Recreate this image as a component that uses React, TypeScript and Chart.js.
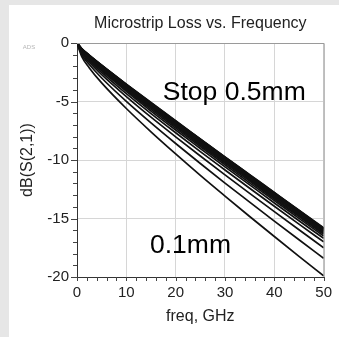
import React, { useEffect, useRef } from "react";
import { Chart, registerables } from "chart.js";

Chart.register(...registerables);

// Frequency points (GHz)
const freqGHz = [0, 1, 2.5, 5, 10, 15, 20, 25, 30, 35, 40, 45, 50];

// Strip widths (mm), 0.1 -> 0.5 mm
const widthsMm = [0.1, 0.125, 0.15, 0.175, 0.2, 0.225, 0.25, 0.275, 0.3, 0.325, 0.35, 0.375, 0.4, 0.425, 0.45, 0.475, 0.5];

// dB(S(2,1)) for each width
const s21_w0100 = [0, -1.19, -2.13, -3.41, -5.6, -7.59, -9.48, -11.31, -13.08, -14.83, -16.54, -18.23, -19.9];
const s21_w0125 = [0, -1.01, -1.84, -2.99, -4.99, -6.83, -8.59, -10.3, -11.97, -13.6, -15.22, -16.82, -18.4];
const s21_w0150 = [0, -0.88, -1.64, -2.7, -4.58, -6.34, -8.02, -9.66, -11.27, -12.85, -14.41, -15.96, -17.5];
const s21_w0175 = [0, -0.8, -1.5, -2.51, -4.33, -6.03, -7.67, -9.28, -10.85, -12.41, -13.95, -15.48, -17.0];
const s21_w0200 = [0, -0.73, -1.4, -2.37, -4.14, -5.82, -7.44, -9.02, -10.59, -12.13, -13.67, -15.19, -16.7];
const s21_w0225 = [0, -0.68, -1.33, -2.28, -4.02, -5.67, -7.27, -8.85, -10.41, -11.95, -13.47, -14.99, -16.5];
const s21_w0250 = [0, -0.64, -1.27, -2.2, -3.92, -5.55, -7.15, -8.72, -10.27, -11.8, -13.33, -14.84, -16.35];
const s21_w0275 = [0, -0.62, -1.23, -2.14, -3.84, -5.47, -7.06, -8.62, -10.17, -11.7, -13.23, -14.74, -16.25];
const s21_w0300 = [0, -0.59, -1.19, -2.09, -3.77, -5.39, -6.97, -8.53, -10.07, -11.61, -13.13, -14.64, -16.15];
const s21_w0325 = [0, -0.57, -1.16, -2.05, -3.72, -5.33, -6.91, -8.47, -10.01, -11.54, -13.06, -14.57, -16.08];
const s21_w0350 = [0, -0.55, -1.13, -2.02, -3.68, -5.28, -6.85, -8.41, -9.95, -11.47, -13.0, -14.51, -16.02];
const s21_w0375 = [0, -0.54, -1.11, -1.99, -3.64, -5.24, -6.81, -8.36, -9.9, -11.42, -12.95, -14.46, -15.97];
const s21_w0400 = [0, -0.52, -1.09, -1.96, -3.61, -5.2, -6.77, -8.32, -9.86, -11.38, -12.91, -14.42, -15.93];
const s21_w0425 = [0, -0.52, -1.08, -1.94, -3.58, -5.17, -6.74, -8.28, -9.82, -11.35, -12.87, -14.38, -15.89];
const s21_w0450 = [0, -0.51, -1.06, -1.92, -3.56, -5.14, -6.71, -8.25, -9.79, -11.32, -12.84, -14.35, -15.86];
const s21_w0475 = [0, -0.5, -1.05, -1.9, -3.53, -5.12, -6.68, -8.22, -9.76, -11.28, -12.8, -14.32, -15.83];
const s21_w0500 = [0, -0.49, -1.04, -1.89, -3.51, -5.09, -6.65, -8.19, -9.73, -11.25, -12.77, -14.29, -15.8];

const seriesByWidth = [
  s21_w0100, s21_w0125, s21_w0150, s21_w0175, s21_w0200, s21_w0225,
  s21_w0250, s21_w0275, s21_w0300, s21_w0325, s21_w0350, s21_w0375,
  s21_w0400, s21_w0425, s21_w0450, s21_w0475, s21_w0500,
];

// Axis ticks
const xMajorTicks = [0, 10, 20, 30, 40, 50];
const xMinorTicks = [2, 4, 6, 8, 12, 14, 16, 18, 22, 24, 26, 28, 32, 34, 36, 38, 42, 44, 46, 48];
const yMajorTicks = [0, -5, -10, -15, -20];
const yMinorTicks = [-1, -2, -3, -4, -6, -7, -8, -9, -11, -12, -13, -14, -16, -17, -18, -19];

// Texts
const chartTitle = "Microstrip Loss vs. Frequency";
const xAxisTitle = "freq, GHz";
const yAxisTitle = "dB(S(2,1))";
const annotationTexts = ["Stop 0.5mm", "0.1mm"];
const annotationFreq = [17.4, 14.8];
const annotationDb = [-4.9, -17.95];

const FONT = '"Liberation Sans", Arial, Helvetica, sans-serif';

const overlayPlugin = {
  id: "adsOverlay",
  afterDraw(chart: any) {
    const { ctx, chartArea } = chart;
    const xs = chart.scales.x;
    const ys = chart.scales.y;
    ctx.save();
    // top & right frame
    ctx.strokeStyle = "#9a9a9a";
    ctx.lineWidth = 1;
    ctx.beginPath();
    ctx.moveTo(chartArea.left, chartArea.top + 0.5);
    ctx.lineTo(chartArea.right + 0.5, chartArea.top + 0.5);
    ctx.lineTo(chartArea.right + 0.5, chartArea.bottom);
    ctx.stroke();
    // ticks
    ctx.strokeStyle = "#444";
    ctx.beginPath();
    xMajorTicks.concat(xMinorTicks).forEach((v) => {
      const px = Math.round(xs.getPixelForValue(v)) + 0.5;
      ctx.moveTo(px, chartArea.bottom);
      ctx.lineTo(px, chartArea.bottom + 4);
    });
    yMinorTicks.forEach((v) => {
      const py = Math.round(ys.getPixelForValue(v)) + 0.5;
      ctx.moveTo(chartArea.left - 4, py);
      ctx.lineTo(chartArea.left, py);
    });
    yMajorTicks.forEach((v) => {
      const py = Math.round(ys.getPixelForValue(v)) + 0.5;
      ctx.moveTo(chartArea.left - 6, py);
      ctx.lineTo(chartArea.left, py);
    });
    ctx.stroke();
    // title
    ctx.fillStyle = "#222";
    ctx.font = `16px ${FONT}`;
    ctx.textAlign = "center";
    ctx.textBaseline = "alphabetic";
    ctx.fillText(chartTitle, (chartArea.left + chartArea.right) / 2, 23);
    // x axis title
    ctx.fillText(xAxisTitle, (chartArea.left + chartArea.right) / 2, 316);
    // y axis title
    ctx.save();
    ctx.translate(23, (chartArea.top + chartArea.bottom) / 2);
    ctx.rotate(-Math.PI / 2);
    ctx.textBaseline = "alphabetic";
    ctx.fillText(yAxisTitle, 0, 0);
    ctx.restore();
    // ADS mark
    ctx.fillStyle = "#b5b5b5";
    ctx.font = `6px ${FONT}`;
    ctx.textAlign = "center";
    ctx.textBaseline = "middle";
    ctx.fillText("ADS", 20, 42);
    // annotations
    ctx.fillStyle = "#000";
    ctx.font = `26.5px ${FONT}`;
    ctx.textAlign = "left";
    ctx.textBaseline = "alphabetic";
    annotationTexts.forEach((t, i) => {
      ctx.fillText(t, xs.getPixelForValue(annotationFreq[i]), ys.getPixelForValue(annotationDb[i]));
    });
    ctx.restore();
  },
};

export default function App() {
  const canvasRef = useRef<HTMLCanvasElement | null>(null);

  useEffect(() => {
    document.body.style.margin = "0";
    const canvas = canvasRef.current;
    if (!canvas) return;
    const datasets = seriesByWidth.map((vals, i) => ({
      label: `W=${widthsMm[i]}mm`,
      data: vals.map((v, j) => ({ x: freqGHz[j], y: v })),
      borderColor: "#111",
      borderWidth: 1.7,
      pointRadius: 0,
      fill: false,
      cubicInterpolationMode: "monotone" as const,
    }));
    const chart = new Chart(canvas, {
      type: "line",
      data: { datasets },
      options: {
        animation: false,
        responsive: false,
        maintainAspectRatio: false,
        layout: { padding: { top: 38, right: 10, left: 0, bottom: 0 } },
        plugins: {
          legend: { display: false },
          title: { display: false },
          tooltip: { enabled: false },
        },
        scales: {
          x: {
            type: "linear",
            min: 0,
            max: 50,
            afterFit: (s: any) => { s.height = 60; },
            afterBuildTicks: (s: any) => { s.ticks = xMajorTicks.map((v) => ({ value: v })); },
            ticks: { font: { size: 15, family: FONT }, color: "#222", padding: 7, maxRotation: 0 },
            grid: { color: "#d6d6d6", drawTicks: false },
            border: { color: "#333", width: 1 },
          },
          y: {
            type: "linear",
            min: -20,
            max: 0,
            afterFit: (s: any) => { s.width = 68; },
            afterBuildTicks: (s: any) => { s.ticks = yMajorTicks.slice().reverse().map((v) => ({ value: v })); },
            ticks: { font: { size: 15, family: FONT }, color: "#222", padding: 8 },
            grid: { color: "#d6d6d6", drawTicks: false },
            border: { color: "#333", width: 1 },
          },
        },
      },
      plugins: [overlayPlugin],
    });
    return () => chart.destroy();
  }, []);

  return (
    <div style={{ width: 339, height: 337, background: "#e6e6e6", position: "relative", overflow: "hidden" }}>
      <div style={{ position: "absolute", left: 9, top: 5, width: 330, height: 332, background: "#fff" }}>
        <canvas ref={canvasRef} width={330} height={332} style={{ display: "block" }} />
      </div>
    </div>
  );
}
